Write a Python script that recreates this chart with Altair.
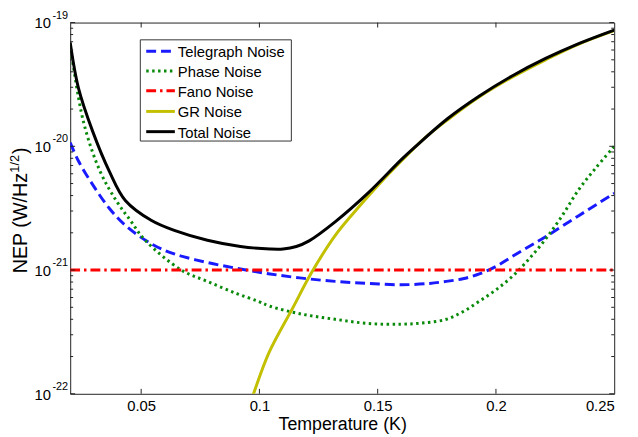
import altair as alt
import pandas as pd

# ---------------- data ----------------
series_names = ["Telegraph Noise", "Phase Noise", "Fano Noise", "GR Noise", "Total Noise"]

T_tel = [0.020, 0.0235, 0.0295, 0.0365, 0.0434, 0.0545, 0.064, 0.078, 0.092, 0.1045,
         0.118, 0.132, 0.146, 0.160, 0.172, 0.179, 0.186, 0.193, 0.200, 0.207, 0.214, 0.221, 0.235, 0.250]
NEP_tel = [1.07e-20, 7.6e-21, 4.9e-21, 3.16e-21, 2.29e-21, 1.62e-21, 1.35e-21, 1.15e-21, 1.02e-21, 9.3e-22,
           8.6e-22, 8.1e-22, 7.8e-22, 7.6e-22, 7.8e-22, 8.1e-22, 8.5e-22, 9.3e-22, 1.07e-21, 1.29e-21, 1.55e-21,
           1.86e-21, 2.75e-21, 4.17e-21]

T_pha = [0.020, 0.0256, 0.0326, 0.0395, 0.0455, 0.0517, 0.067, 0.078, 0.090, 0.0994, 0.1045,
         0.118, 0.132, 0.146, 0.160, 0.170, 0.179, 0.186, 0.193, 0.200, 0.207, 0.214, 0.221, 0.228,
         0.235, 0.242, 0.250]
NEP_pha = [6.6e-20, 1.58e-20, 6.3e-21, 3.63e-21, 2.51e-21, 1.74e-21, 1.0e-21, 8.1e-22, 6.5e-22, 5.6e-22, 5.1e-22,
           4.4e-22, 4.0e-22, 3.7e-22, 3.65e-22, 3.75e-22, 4.0e-22, 4.6e-22, 5.6e-22, 6.92e-22, 8.91e-22, 1.23e-21,
           1.78e-21, 2.75e-21, 4.47e-21, 6.61e-21, 1.0e-20]

T_fano = [0.020, 0.250]
NEP_fano = [1.0e-21, 1.0e-21]

T_gr = [0.096, 0.0975, 0.104, 0.114, 0.122, 0.132, 0.143, 0.150, 0.160, 0.170,
        0.180, 0.193, 0.207, 0.221, 0.235, 0.250]
NEP_gr = [8.3e-23, 1.0e-22, 2.14e-22, 4.9e-22, 9.5e-22, 1.9e-21, 3.4e-21, 4.8e-21, 7.6e-21, 1.17e-20,
          1.66e-20, 2.51e-20, 3.63e-20, 5.0e-20, 6.7e-20, 8.6e-20]

T_tot = [0.020, 0.0235, 0.0295, 0.0365, 0.0434, 0.0544, 0.064, 0.078, 0.092, 0.1045, 0.110, 0.1156,
         0.121, 0.132, 0.146, 0.160, 0.1656, 0.1795, 0.193, 0.207, 0.221, 0.235, 0.250]
NEP_tot = [6.9e-20, 2.95e-20, 1.32e-20, 6.3e-21, 3.63e-21, 2.51e-21, 2.09e-21, 1.74e-21, 1.55e-21, 1.48e-21, 1.48e-21,
           1.55e-21, 1.72e-21, 2.45e-21, 4.2e-21, 7.8e-21, 9.8e-21, 1.67e-20, 2.55e-20, 3.72e-20, 5.13e-20, 6.76e-20, 8.7e-20]

x_tick_values = [0.05, 0.10, 0.15, 0.20, 0.25]
x_inner_ticks = [0.05, 0.10, 0.15, 0.20]
y_major = [1e-22, 1e-21, 1e-20, 1e-19]
y_exponents = ["-22", "-21", "-20", "-19"]
y_minor = [m * 10.0 ** e for e in (-22, -21, -20) for m in range(2, 10)]

colors = ["#1a1aff", "#0a8a0a", "#ff0000", "#c2c000", "#000000"]
dashes = [[10, 5], [2.5, 3.5], [10, 4, 2.5, 4], None, None]

# ---------------- chart ----------------
W, H = 551, 376
FONT = "Liberation Sans"
xscale = alt.Scale(domain=[0.02, 0.25], nice=False, zero=False)
yscale = alt.Scale(type="log", domain=[1e-22, 1e-19], nice=False)
xaxis = alt.Axis(values=x_tick_values, format=".2~f", ticks=False, tickSize=0, domain=False, grid=False,
                 labelFontSize=15, labelPadding=5, labelColor="black", labelFont=FONT,
                 title="Temperature (K)", titleFontSize=18, titleFontWeight="normal",
                 titlePadding=2, titleColor="black", titleFont=FONT)

def X(field="T"):
    return alt.X(f"{field}:Q", scale=xscale, axis=xaxis)

def Y(field="NEP"):
    return alt.Y(f"{field}:Q", scale=yscale, axis=None)

series_data = [(T_tel, NEP_tel), (T_pha, NEP_pha), (T_fano, NEP_fano), (T_gr, NEP_gr), (T_tot, NEP_tot)]

layers = []
for (t, v), col, dash in zip(series_data, colors, dashes):
    kw = dict(color=col, strokeWidth=3, interpolate="catmull-rom", clip=True, strokeCap="butt")
    if dash is not None:
        kw["strokeDash"] = dash
    df = pd.DataFrame({"T": t, "NEP": v})
    layers.append(alt.Chart(df).mark_line(**kw).encode(x=X(), y=Y()))

# inward ticks (Matlab style)
xt = pd.DataFrame({"T": x_inner_ticks})
tick_col = "#222222"
layers.append(alt.Chart(xt).mark_rule(color=tick_col, strokeWidth=1).encode(x=X(), y=alt.value(H), y2=alt.value(H - 5)))
layers.append(alt.Chart(xt).mark_rule(color=tick_col, strokeWidth=1).encode(x=X(), y=alt.value(0), y2=alt.value(5)))
ymj = pd.DataFrame({"NEP": y_major, "base": ["10"] * len(y_major), "exp": y_exponents})
ymn = pd.DataFrame({"NEP": y_minor})
layers.append(alt.Chart(ymj).mark_rule(color=tick_col, strokeWidth=1).encode(y=Y(), x=alt.value(0), x2=alt.value(5)))
layers.append(alt.Chart(ymj).mark_rule(color=tick_col, strokeWidth=1).encode(y=Y(), x=alt.value(W), x2=alt.value(W - 5)))
layers.append(alt.Chart(ymn).mark_rule(color=tick_col, strokeWidth=1).encode(y=Y(), x=alt.value(0), x2=alt.value(3)))
layers.append(alt.Chart(ymn).mark_rule(color=tick_col, strokeWidth=1).encode(y=Y(), x=alt.value(W), x2=alt.value(W - 3)))

# y tick labels 10^n
layers.append(alt.Chart(ymj).mark_text(align="right", baseline="middle", fontSize=15, font=FONT, color="black", dy=1)
              .encode(y=Y(), x=alt.value(-19.5), text="base:N"))
layers.append(alt.Chart(ymj).mark_text(align="left", baseline="middle", fontSize=11, font=FONT, color="black", dy=-7)
              .encode(y=Y(), x=alt.value(-18), text="exp:N"))

# y axis title with superscript
layers.append(alt.Chart().mark_text(angle=270, align="left", baseline="alphabetic", fontSize=20, font=FONT, color="black")
              .encode(text=alt.value("NEP (W/Hz"), x=alt.value(-44), y=alt.value(254)))
layers.append(alt.Chart().mark_text(angle=270, align="left", baseline="alphabetic", fontSize=13, font=FONT, color="black")
              .encode(text=alt.value("1/2"), x=alt.value(-52), y=alt.value(152)))
layers.append(alt.Chart().mark_text(angle=270, align="left", baseline="alphabetic", fontSize=20, font=FONT, color="black")
              .encode(text=alt.value(")"), x=alt.value(-44), y=alt.value(133)))

# legend box
layers.append(alt.Chart().mark_rect(fill="white", stroke="#333333", strokeWidth=1)
              .encode(x=alt.value(71), x2=alt.value(224), y=alt.value(17.5), y2=alt.value(120)))
row_y = [29, 49, 69, 90, 110.5]
for name, col, dash, yy in zip(series_names, colors, dashes, row_y):
    kw = dict(color=col, strokeWidth=3, strokeCap="butt")
    if dash is not None:
        kw["strokeDash"] = dash
    layers.append(alt.Chart().mark_rule(**kw).encode(x=alt.value(77), x2=alt.value(106), y=alt.value(yy)))
    layers.append(alt.Chart().mark_text(align="left", baseline="middle", fontSize=15, font=FONT, color="black")
                  .encode(text=alt.value(name), x=alt.value(109), y=alt.value(yy + 1)))

chart = alt.layer(*layers).properties(
    width=W, height=H,
    padding={"left": 63, "top": 12, "right": 16, "bottom": 40},
    autosize=alt.AutoSizeParams(type="none"),
).configure_view(stroke="#222222", strokeWidth=1)

chart.save("out.html", embed_options={"renderer": "svg", "actions": False})
